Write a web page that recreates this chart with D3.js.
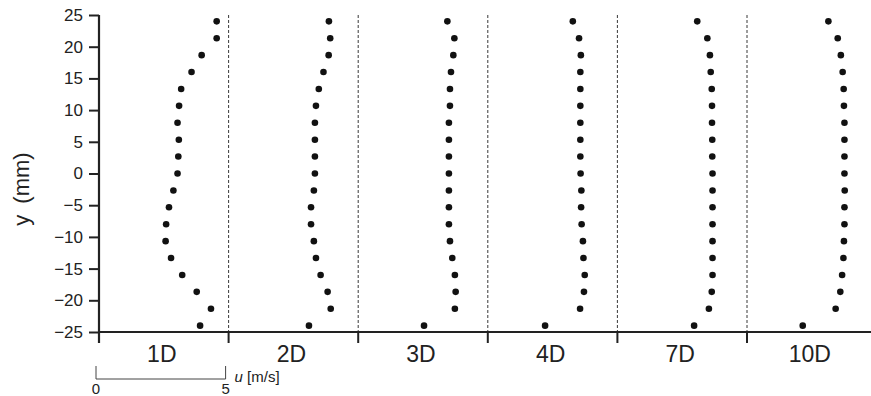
<!DOCTYPE html>
<html>
<head>
<meta charset="utf-8">
<script src="https://cdn.jsdelivr.net/npm/d3@7"></script>
<style>
  body { margin: 0; background: #fff; }
  svg { display: block; font-family: "Liberation Sans", Arial, sans-serif; }
</style>
</head>
<body>
<svg id="chart" width="871" height="396"></svg>
<script>
// measurement heights (mm), top to bottom
const heights = [24, 21.33, 18.67, 16, 13.33, 10.67, 8, 5.33, 2.67, 0,
  -2.67, -5.33, -8, -10.67, -13.33, -16, -18.67, -21.33, -24]

const stations = ["1D", "2D", "3D", "4D", "7D", "10D"]

// streamwise velocity u [m/s] at each height, per station
const u1D = [4.54, 4.54, 3.96, 3.57, 3.17, 3.09, 3.03, 3.08, 3.06, 3.03,
  2.87, 2.70, 2.59, 2.57, 2.78, 3.21, 3.77, 4.32, 3.90]
const u2D = [3.87, 3.92, 3.86, 3.66, 3.48, 3.37, 3.33, 3.33, 3.33, 3.33,
  3.29, 3.18, 3.18, 3.29, 3.37, 3.55, 3.82, 3.94, 3.10]
const u3D = [3.44, 3.71, 3.67, 3.58, 3.54, 3.54, 3.50, 3.50, 3.50, 3.50,
  3.50, 3.50, 3.50, 3.54, 3.63, 3.73, 3.76, 3.73, 2.54]
const u4D = [3.28, 3.52, 3.59, 3.57, 3.57, 3.57, 3.57, 3.57, 3.57, 3.58,
  3.61, 3.60, 3.62, 3.67, 3.69, 3.74, 3.71, 3.56, 2.21]
const u7D = [3.08, 3.47, 3.57, 3.60, 3.64, 3.65, 3.65, 3.66, 3.66, 3.67,
  3.67, 3.67, 3.67, 3.67, 3.67, 3.67, 3.64, 3.53, 2.96]
const u10D = [3.14, 3.50, 3.62, 3.69, 3.73, 3.74, 3.76, 3.76, 3.76, 3.76,
  3.77, 3.76, 3.76, 3.74, 3.72, 3.67, 3.60, 3.42, 2.15]

const profiles = [u1D, u2D, u3D, u4D, u7D, u10D]
const yTicks = [25, 20, 15, 10, 5, 0, -5, -10, -15, -20, -25]
const uMax = 5

const margin = {left: 99, top: 15, bottom: 332}
const panelWidth = 129.6

const svg = d3.select("#chart")

const y = d3.scaleLinear().domain([-25, 25]).range([margin.bottom, margin.top])
const panel = d3.scaleLinear().domain([0, stations.length])
  .range([margin.left, margin.left + stations.length * panelWidth])
const u = d3.scaleLinear().domain([0, uMax]).range([0, panelWidth])

// dashed panel dividers
svg.append("g")
  .selectAll("line")
  .data(d3.range(1, stations.length))
  .join("line")
  .attr("x1", i => panel(i)).attr("x2", i => panel(i))
  .attr("y1", y(25)).attr("y2", y(-25))
  .attr("stroke", "#222")
  .attr("stroke-width", 0.9)
  .attr("stroke-dasharray", "3,2")

// points
stations.forEach((s, i) => {
  svg.append("g")
    .selectAll("circle")
    .data(profiles[i])
    .join("circle")
    .attr("cx", (d, j) => panel(i) + u(d))
    .attr("cy", (d, j) => y(heights[j]))
    .attr("r", 3.3)
    .attr("fill", "#111")
})

// y axis
const yAxis = svg.append("g")
  .attr("transform", "translate(" + margin.left + ",0)")
  .call(d3.axisLeft(y).tickValues(yTicks).tickSize(10).tickPadding(6))
yAxis.select(".domain").remove()
yAxis.selectAll(".tick line").attr("stroke", "#222").attr("stroke-width", 2)
yAxis.selectAll(".tick text")
  .attr("font-size", 17)
  .attr("font-family", "Liberation Sans, Arial, sans-serif")
  .attr("fill", "#222")
yAxis.append("line")
  .attr("y1", y(25)).attr("y2", y(-25) + 11)
  .attr("stroke", "#222").attr("stroke-width", 2.2)

// x axis with panel boundary ticks
svg.append("line")
  .attr("x1", margin.left).attr("x2", 871)
  .attr("y1", y(-25)).attr("y2", y(-25))
  .attr("stroke", "#222").attr("stroke-width", 2.2)
svg.append("g")
  .selectAll("line")
  .data(d3.range(1, stations.length))
  .join("line")
  .attr("x1", i => panel(i)).attr("x2", i => panel(i))
  .attr("y1", y(-25)).attr("y2", y(-25) + 11)
  .attr("stroke", "#222").attr("stroke-width", 2)

// station labels
svg.append("g")
  .selectAll("text")
  .data(stations)
  .join("text")
  .attr("x", (d, i) => panel(i + 0.5) - 2)
  .attr("y", 362)
  .attr("text-anchor", "middle")
  .attr("font-size", 23)
  .attr("fill", "#222")
  .text(d => d)

// y label
svg.append("text")
  .attr("transform", "translate(29,189) rotate(-90)")
  .attr("text-anchor", "middle")
  .attr("font-size", 22)
  .attr("fill", "#222")
  .text("y\u2002(mm)")

// velocity scale bar
const bar = svg.append("g").attr("transform", "translate(96,0)")
bar.append("path")
  .attr("d", "M0,366V379H" + u(uMax) + "V366")
  .attr("fill", "none")
  .attr("stroke", "#444")
  .attr("stroke-width", 1)
bar.selectAll("text.tick")
  .data([0, uMax])
  .join("text")
  .attr("class", "tick")
  .attr("x", d => u(d))
  .attr("y", 394)
  .attr("text-anchor", "middle")
  .attr("font-size", 15)
  .attr("fill", "#222")
  .text(d => d)
const unit = bar.append("text")
  .attr("x", u(uMax) + 9)
  .attr("y", 382)
  .attr("font-size", 15)
  .attr("fill", "#222")
unit.append("tspan").attr("font-style", "italic").text("u")
unit.append("tspan").text(" [m/s]")
</script>
</body>
</html>
